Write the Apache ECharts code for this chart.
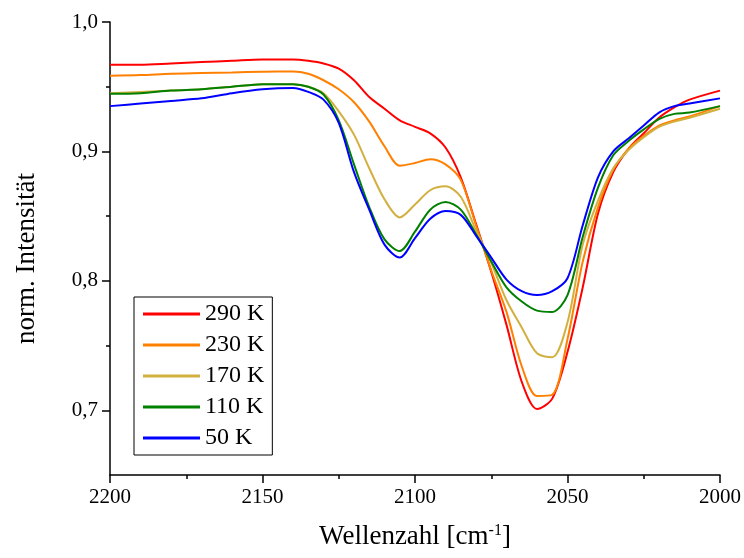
<!DOCTYPE html>
<html>
<head>
<meta charset="utf-8">
<title>norm. Intensität</title>
<script src="https://cdn.jsdelivr.net/npm/echarts@6/dist/echarts.min.js"></script>
<style>
	html, body { margin: 0; padding: 0; background: #fff; }
	#chart { width: 744px; height: 558px; }
</style>
</head>
<body>
<div id="chart"></div>
<script>
// Wellenzahl (cm^-1)
var wellenzahl = [2200, 2190, 2180, 2170, 2160, 2150, 2140, 2135, 2130, 2125, 2120, 2115, 2110, 2105, 2100, 2095, 2090,
	2085, 2080, 2075, 2070, 2065, 2060, 2055, 2050, 2045, 2040, 2035, 2030, 2025, 2020, 2015, 2010, 2000];

// normierte Intensität je Temperatur
var k290 = [0.967, 0.967, 0.968, 0.969, 0.970, 0.971, 0.971, 0.970, 0.968, 0.964, 0.955, 0.942, 0.933, 0.924, 0.919, 0.914, 0.903,
	0.880, 0.844, 0.807, 0.766, 0.722, 0.701, 0.709, 0.745, 0.795, 0.852, 0.884, 0.902, 0.914, 0.926, 0.934, 0.940, 0.947];
var k230 = [0.9585, 0.959, 0.960, 0.9605, 0.961, 0.9616, 0.9618, 0.960, 0.955, 0.948, 0.938, 0.923, 0.904, 0.889, 0.891, 0.894, 0.890,
	0.878, 0.843, 0.808, 0.776, 0.734, 0.711, 0.712, 0.755, 0.815, 0.857, 0.886, 0.902, 0.912, 0.920, 0.924, 0.927, 0.935];
var k170 = [0.945, 0.946, 0.947, 0.948, 0.950, 0.952, 0.952, 0.950, 0.945, 0.931, 0.913, 0.887, 0.863, 0.849, 0.859, 0.870, 0.873,
	0.865, 0.839, 0.814, 0.785, 0.764, 0.744, 0.741, 0.768, 0.828, 0.862, 0.887, 0.901, 0.911, 0.919, 0.923, 0.926, 0.933];
var k110 = [0.9445, 0.945, 0.947, 0.948, 0.950, 0.952, 0.952, 0.950, 0.944, 0.924, 0.890, 0.857, 0.832, 0.823, 0.838, 0.855, 0.861,
	0.855, 0.836, 0.815, 0.795, 0.784, 0.777, 0.776, 0.789, 0.834, 0.872, 0.897, 0.908, 0.917, 0.925, 0.929, 0.930, 0.935];
var k50 = [0.935, 0.937, 0.939, 0.941, 0.945, 0.948, 0.949, 0.946, 0.940, 0.922, 0.884, 0.855, 0.828, 0.818, 0.833, 0.848, 0.854,
	0.851, 0.835, 0.818, 0.801, 0.792, 0.789, 0.792, 0.802, 0.843, 0.880, 0.900, 0.910, 0.920, 0.930, 0.935, 0.937, 0.941];

var namen = ['290 K', '230 K', '170 K', '110 K', '50 K'];
var farben = ['#ff0000', '#ff8000', '#d2b040', '#008000', '#0000ff'];
var reihen = [k290, k230, k170, k110, k50];

var yMajor = [0.7, 0.8, 0.9, 1.0];
var yMinor = [0.75, 0.85, 0.95];

var schrift = 'Liberation Serif, Times New Roman, serif';

function paare(werte) {
	var out = [];
	for (var i = 0; i < wellenzahl.length; i++) {
		out.push([wellenzahl[i], werte[i]]);
	}
	return out;
}

var series = [];
for (var i = 0; i < reihen.length; i++) {
	series.push({
		name: namen[i],
		type: 'line',
		data: paare(reihen[i]),
		smooth: 0.3,
		showSymbol: false,
		symbol: 'none',
		lineStyle: { color: farben[i], width: 2 },
		itemStyle: { color: farben[i] }
	});
}

var myChart = echarts.init(document.getElementById('chart'));
var option = {
	backgroundColor: '#fff',
	animation: false,
	grid: { left: 110, right: 22, top: 22, bottom: 83 },
	legend: {
		orient: 'vertical',
		left: 134,
		top: 297,
		data: namen,
		icon: 'rect',
		itemWidth: 57,
		itemHeight: 3,
		itemGap: 7,
		padding: [5, 8, 5, 9],
		borderColor: '#000',
		borderWidth: 1,
		textStyle: { fontFamily: schrift, fontSize: 24, color: '#000' }
	},
	xAxis: {
		type: 'value',
		min: 2000,
		max: 2200,
		interval: 50,
		inverse: true,
		name: 'Wellenzahl [cm{sup|-1}]',
		nameLocation: 'middle',
		nameGap: 48,
		nameTextStyle: {
			fontFamily: schrift, fontSize: 27, color: '#000',
			rich: { sup: { fontFamily: schrift, fontSize: 16, color: '#000', verticalAlign: 'top' } }
		},
		axisLine: { lineStyle: { color: '#000', width: 1.5 } },
		axisTick: { inside: false, length: 8, lineStyle: { color: '#000', width: 1.5 } },
		minorTick: { show: true, splitNumber: 2, length: 4, lineStyle: { color: '#000', width: 1.5 } },
		splitLine: { show: false },
		axisLabel: {
			fontFamily: schrift, fontSize: 21, color: '#000', margin: 12,
			formatter: function(v) { return String(v); }
		}
	},
	yAxis: [{
		type: 'value',
		min: 0.65,
		max: 1.0,
		name: 'norm. Intensität',
		nameLocation: 'middle',
		nameGap: 70,
		nameTextStyle: { fontFamily: schrift, fontSize: 27, color: '#000', padding: [0, 20, 0, 0] },
		axisLine: { show: true, lineStyle: { color: '#000', width: 1.5 } },
		axisTick: { show: true, inside: false, length: 8, customValues: yMajor, lineStyle: { color: '#000', width: 1.5 } },
		splitLine: { show: false },
		axisLabel: {
			fontFamily: schrift, fontSize: 21, color: '#000', margin: 12,
			customValues: yMajor,
			formatter: function(v) { return v.toFixed(1).replace('.', ','); }
		}
	}, {
		// nur die kleinen Zwischenstriche
		type: 'value',
		min: 0.65,
		max: 1.0,
		position: 'left',
		axisLine: { show: false },
		axisTick: { show: true, inside: false, length: 4, customValues: yMinor, lineStyle: { color: '#000', width: 1.5 } },
		axisLabel: { show: false },
		splitLine: { show: false }
	}],
	series: series
};
myChart.setOption(option);
</script>
</body>
</html>
